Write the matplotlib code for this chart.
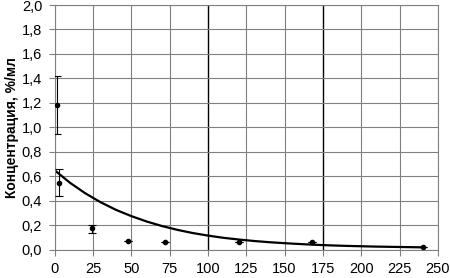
import matplotlib.pyplot as plt
import numpy as np

plt.rcParams['font.family'] = ['Liberation Sans', 'DejaVu Sans']

# measured points
t_pts = [1.5, 3, 24, 48, 72, 120, 168, 240]
c_pts = [1.18, 0.55, 0.18, 0.073, 0.065, 0.065, 0.065, 0.025]
err_lo = [0.23, 0.11, 0.04, 0, 0, 0, 0, 0]
err_hi = [0.24, 0.11, 0.02, 0, 0, 0, 0, 0]

# trend line
t_fit = [0, 10, 20, 30, 40, 50, 60, 70, 80, 90, 100, 110, 120, 130, 140, 150,
         160, 170, 180, 190, 200, 210, 220, 230, 240]
c_fit = [0.65, 0.548, 0.462, 0.389, 0.327, 0.276, 0.232, 0.195, 0.164, 0.138, 0.117,
         0.099, 0.085, 0.073, 0.063, 0.055, 0.048, 0.042, 0.037, 0.033, 0.030,
         0.027, 0.025, 0.023, 0.021]

xticks = [0, 25, 50, 75, 100, 125, 150, 175, 200, 225, 250]
yticks = [0.0, 0.2, 0.4, 0.6, 0.8, 1.0, 1.2, 1.4, 1.6, 1.8, 2.0]

fig = plt.figure(figsize=(4.5, 2.78), dpi=100)
ax = fig.add_axes([0.1216, 0.101, 0.8514, 0.881])

for x in xticks:
	col = 'black' if x in (100, 175) else '#808080'
	lw = 1.0 if x in (100, 175) else 0.8
	ax.axvline(x, color=col, lw=lw, zorder=0)
for y in yticks:
	ax.axhline(y, color='#808080', lw=0.8, zorder=0)

ax.plot(t_fit, c_fit, color='black', lw=1.6, zorder=2)
ax.errorbar(t_pts, c_pts, yerr=[err_lo, err_hi], fmt='o', color='black',
			ms=3, elinewidth=0.8, capsize=3, capthick=0.8, zorder=3)

ax.set_xlim(0, 250)
ax.set_ylim(0, 2.0)
ax.set_xticks(xticks)
ax.set_yticks(yticks)
ax.set_yticklabels([f'{v:.1f}'.replace('.', ',') for v in yticks])
ax.tick_params(labelsize=10.5, length=4, width=0.8, color='#808080', pad=5)
for s in ax.spines.values():
	s.set_color('#808080')
	s.set_linewidth(0.8)
ax.set_ylabel('Концентрация, %/мл', fontsize=10, fontweight='bold', labelpad=2)

plt.savefig('out.png')
